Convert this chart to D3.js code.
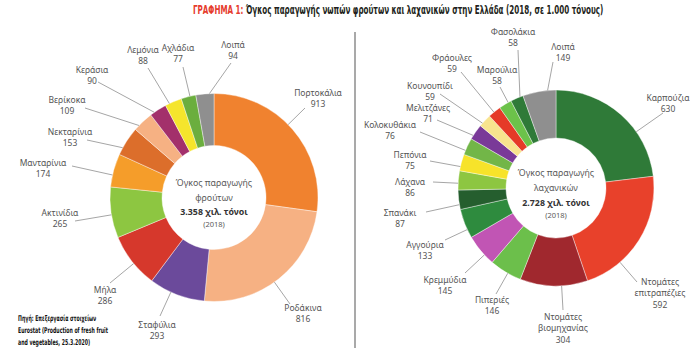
<!DOCTYPE html>
<html><head><meta charset="utf-8">
<script src="https://cdn.jsdelivr.net/npm/d3@7/dist/d3.min.js"></script>
<style>body{margin:0;background:#fff}svg{display:block}</style></head>
<body><svg id="c" width="700" height="355"></svg>
<script>
// ---- data ----
const fruitNames = ["Πορτοκάλια","Ροδάκινα","Σταφύλια","Μήλα","Ακτινίδια","Μανταρίνια","Νεκταρίνια","Βερίκοκα","Κεράσια","Λεμόνια","Αχλάδια","Λοιπά"];
const fruitValues = [913,816,293,286,265,174,153,109,90,88,77,94];
const vegNames = ["Καρπούζια","Ντομάτες|επιτραπέζιες","Ντομάτες|βιομηχανίας","Πιπεριές","Κρεμμύδια","Αγγούρια","Σπανάκι","Λάχανα","Πεπόνια","Κολοκυθάκια","Μελιτζάνες","Κουνουπίδι","Φράουλες","Μαρούλια","Φασολάκια","Λοιπά"];
const vegValues = [630,592,304,146,145,133,87,86,75,76,71,59,59,58,58,149];
const year = "2018";
const titleLead = "ΓΡΑΦΗΜΑ 1:";
const titleText = " Όγκος παραγωγής νωπών φρούτων και λαχανικών στην Ελλάδα (2018, σε 1.000 τόνους)";
const sourceLines = [["Πηγή:"," Επεξεργασία στοιχείων"],["","Eurostat (Production of fresh fruit"],["","and vegetables, 25.3.2020)"]];

// ---- styles / layout ----
const fruitColors = ["#F0822F","#F6B183","#6B4A9B","#D6382C","#8DC641","#F59D2A","#DC6E2B","#F6B183","#A3306B","#F5E52C","#6BAE3E","#8F8F8F"];
const vegColors = ["#2F7A38","#E8412B","#A0282E","#6CBF4B","#C155B4","#2E8B3E","#255E2E","#8DC641","#F7E32A","#72B648","#7A3A98","#F8E48E","#E53A28","#6CC24A","#2F7A38","#8F8F8F"];
// label first-line centre, leader line start
const fruitLayout = [[318,93,305,108],[303,308,290,304],[157,325,160,316],[105,290,110,283],[60,213,75,221],[43,163,72,166],[70,132,87,140],[67,100,85,108],[92,70,98,82],[143,50,148,68],[178,48,183,67],[233,45,231,63]];
const vegLayout = [[668,98,663,113],[660,282,637,282],[563,317,563,310],[492,300,496,294],[445,280,465,273],[425,245,445,240],[400,213,426,212],[410,182,433,182],[410,155,430,161],[390,125,420,132],[428,108,437,120],[430,86,440,94],[452,58,461,72],[497,70,500,87],[513,32,518,50],[563,47,553,62]];

const svg = d3.select("#c");
const fmt = d3.formatLocale({decimal:",",thousands:".",grouping:[3],currency:["","€"]}).format(",d");
const labelFont = "'Noto Sans', 'Open Sans', sans-serif";

function donut(names, values, colors, layout, cx, cy, ro, ri, kind) {
  const pie = d3.pie().sort(null).value(d => d)(values);
  const arc = d3.arc().innerRadius(ri).outerRadius(ro);
  const g = svg.append("g").attr("transform", `translate(${cx},${cy})`);
  g.selectAll("path").data(pie).join("path")
    .attr("d", arc).attr("fill", (d,i) => colors[i])
    .attr("stroke", "#fff").attr("stroke-width", 0.4);

  // leader lines
  pie.forEach((d,i) => {
    const [lx, ly, sx, sy] = layout[i];
    let th = Math.atan2(sx - cx, -(sy - cy));
    if (th < 0) th += 2*Math.PI;
    if (th < d.startAngle - Math.PI) th += 2*Math.PI;
    if (th > d.endAngle + Math.PI) th -= 2*Math.PI;
    const span = d.endAngle - d.startAngle;
    th = Math.max(d.startAngle + 0.25*span, Math.min(d.endAngle - 0.25*span, th));
    svg.append("line")
      .attr("x1", sx).attr("y1", sy)
      .attr("x2", cx + Math.sin(th)*ro).attr("y2", cy - Math.cos(th)*ro)
      .attr("stroke", "#A6A6A6").attr("stroke-width", 1);
    const lines = names[i].split("|").concat([String(values[i])]);
    const t = svg.append("text").attr("text-anchor", "middle")
      .attr("font-family", labelFont).attr("font-size", 8.5).attr("fill", "#555");
    lines.forEach((s,k) => t.append("tspan").attr("x", lx).attr("y", ly + k*11.5).attr("dy", "0.35em").text(s));
  });

  // centre
  const total = d3.sum(values);
  const ct = svg.append("text").attr("text-anchor", "middle")
    .attr("font-family", labelFont).attr("fill", "#595959");
  const rows = [["Όγκος παραγωγής", -15, 8.8, 400], [kind, 0, 8.8, 400],
                [fmt(total) + " χιλ. τόνοι", 14.5, 8.8, 700], ["(" + year + ")", 27, 7.5, 400]];
  rows.forEach(r => ct.append("tspan").attr("x", cx).attr("y", cy + r[1]).attr("dy", "0.35em")
    .attr("font-size", r[2]).attr("font-weight", r[3]).attr("fill", r[3] === 700 ? "#333" : "#595959").text(r[0]));
}

donut(fruitNames, fruitValues, fruitColors, fruitLayout, 214, 197.5, 104, 52, "φρούτων");
donut(vegNames, vegValues, vegColors, vegLayout, 556, 188, 98, 50, "λαχανικών");

// separator
svg.append("line").attr("x1", 355).attr("x2", 355).attr("y1", 32).attr("y2", 348)
  .attr("stroke", "#8C8C8C").attr("stroke-width", 1.5);

// title
const condensed = "'DejaVu Sans Condensed', 'Liberation Sans Narrow', 'DejaVu Sans', sans-serif";
const title = svg.append("text").attr("y", 14.5).attr("font-family", condensed)
  .attr("font-size", 12.5).attr("font-stretch", "condensed");
title.append("tspan").attr("fill", "#E63C2E").attr("font-weight", 700).text(titleLead);
title.append("tspan").attr("fill", "#231F20").attr("font-weight", 700).text(titleText);
{
  const w = title.node().getComputedTextLength();
  const s = 411 / w;
  title.attr("transform", `translate(193,0) scale(${s},1)`);
}

// source
const src = svg.append("g");
const srcTexts = sourceLines.map((ln, k) => {
  const t = src.append("text").attr("y", 321 + k*12).attr("font-family", condensed)
    .attr("font-size", 8).attr("fill", "#111");
  t.append("tspan").attr("font-weight", 700).text(ln[0]);
  t.append("tspan").attr("font-weight", 700).text(ln[1]);
  return t;
});
{
  const w = srcTexts[1].node().getComputedTextLength();
  const s = 90 / w;
  srcTexts.forEach(t => t.attr("transform", `translate(18,0) scale(${s},1)`));
}
</script>
</body></html>
